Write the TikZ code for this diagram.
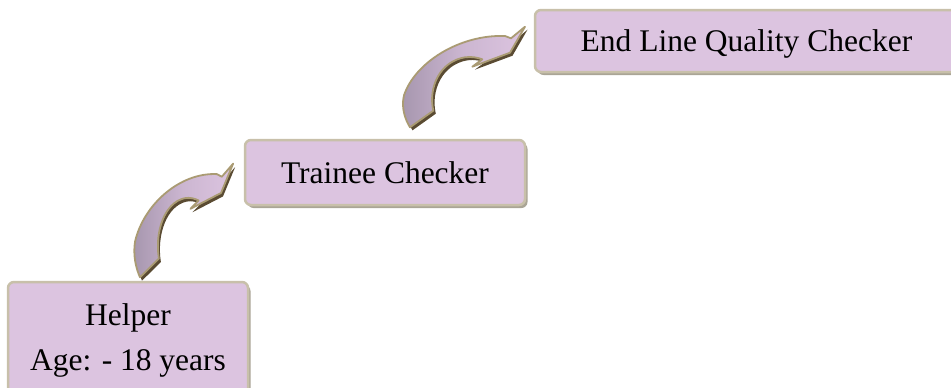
\documentclass[tikz,border=0pt]{standalone}
\usepackage{fontspec}
\setmainfont{Liberation Serif}
\usetikzlibrary{shadows}
\definecolor{boxfill}{HTML}{DCC4E0}
\definecolor{boxborder}{HTML}{C8C0AA}
\definecolor{boxshadow}{HTML}{AAA596}
\definecolor{arrowlight}{HTML}{DCC4E0}
\definecolor{arrowdark}{HTML}{A696AE}
\definecolor{arrowline}{HTML}{AA9B73}
\definecolor{arrowshadow}{HTML}{5A4B32}
\tikzset{
  stagebox/.style={draw=boxborder, line width=2.5pt, fill=boxfill,
    rounded corners=6pt, inner sep=0pt, align=center,
    font=\fontsize{31.5}{45}\selectfont,
    drop shadow={shadow xshift=2.5pt, shadow yshift=-3pt, fill=boxshadow, opacity=1}},
  oneline/.style={text height=21.5pt, text depth=0pt},
  stagearrow/.pic={
    \fill[arrowshadow, shift={(2.5,3)}]
      (0,0) -- (23.3,-16.6) .. controls (18,-40) and (30,-66) .. (55,-70)
      .. controls (62,-71) and (68,-69.5) .. (72.3,-68) -- (62.3,-60.6)
      -- (100,-74.6) -- (115,-100.6) -- (101,-89) -- (95,-91.3)
      .. controls (50,-93) and (5,-65) .. (-6,-32)
      .. controls (-9,-20) and (-5,-8) .. (0,0) -- cycle;
    \draw[arrowline, line width=1.8pt, line join=round,
          left color=arrowdark, right color=arrowlight, middle color=arrowlight!70!arrowdark]
      (0,0) -- (23.3,-16.6) .. controls (18,-40) and (30,-66) .. (55,-70)
      .. controls (62,-71) and (68,-69.5) .. (72.3,-68) -- (62.3,-60.6)
      -- (100,-74.6) -- (115,-100.6) -- (101,-89) -- (95,-91.3)
      .. controls (50,-93) and (5,-65) .. (-6,-32)
      .. controls (-9,-20) and (-5,-8) .. (0,0) -- cycle;
  }
}
\begin{document}
\begin{tikzpicture}[x=1pt, y=-1pt]
\useasboundingbox (0,0) rectangle (951,388);
\node[stagebox, minimum width=240pt, minimum height=116pt] (helper) at (128,340)
  {Helper\\Age: - 18 years};
\node[stagebox, oneline, minimum width=280pt, minimum height=65pt] (trainee) at (385,172.5)
  {Trainee Checker};
\node[stagebox, oneline, minimum width=423pt, minimum height=62pt] (endline) at (746.5,41)
  {End Line Quality Checker};
\pic[shift={(140,277.3)}, xscale=0.81, yscale=1.13] (arrowone) {stagearrow};
\pic[shift={(410,127.3)}] (arrowtwo) {stagearrow};
\end{tikzpicture}
\end{document}
